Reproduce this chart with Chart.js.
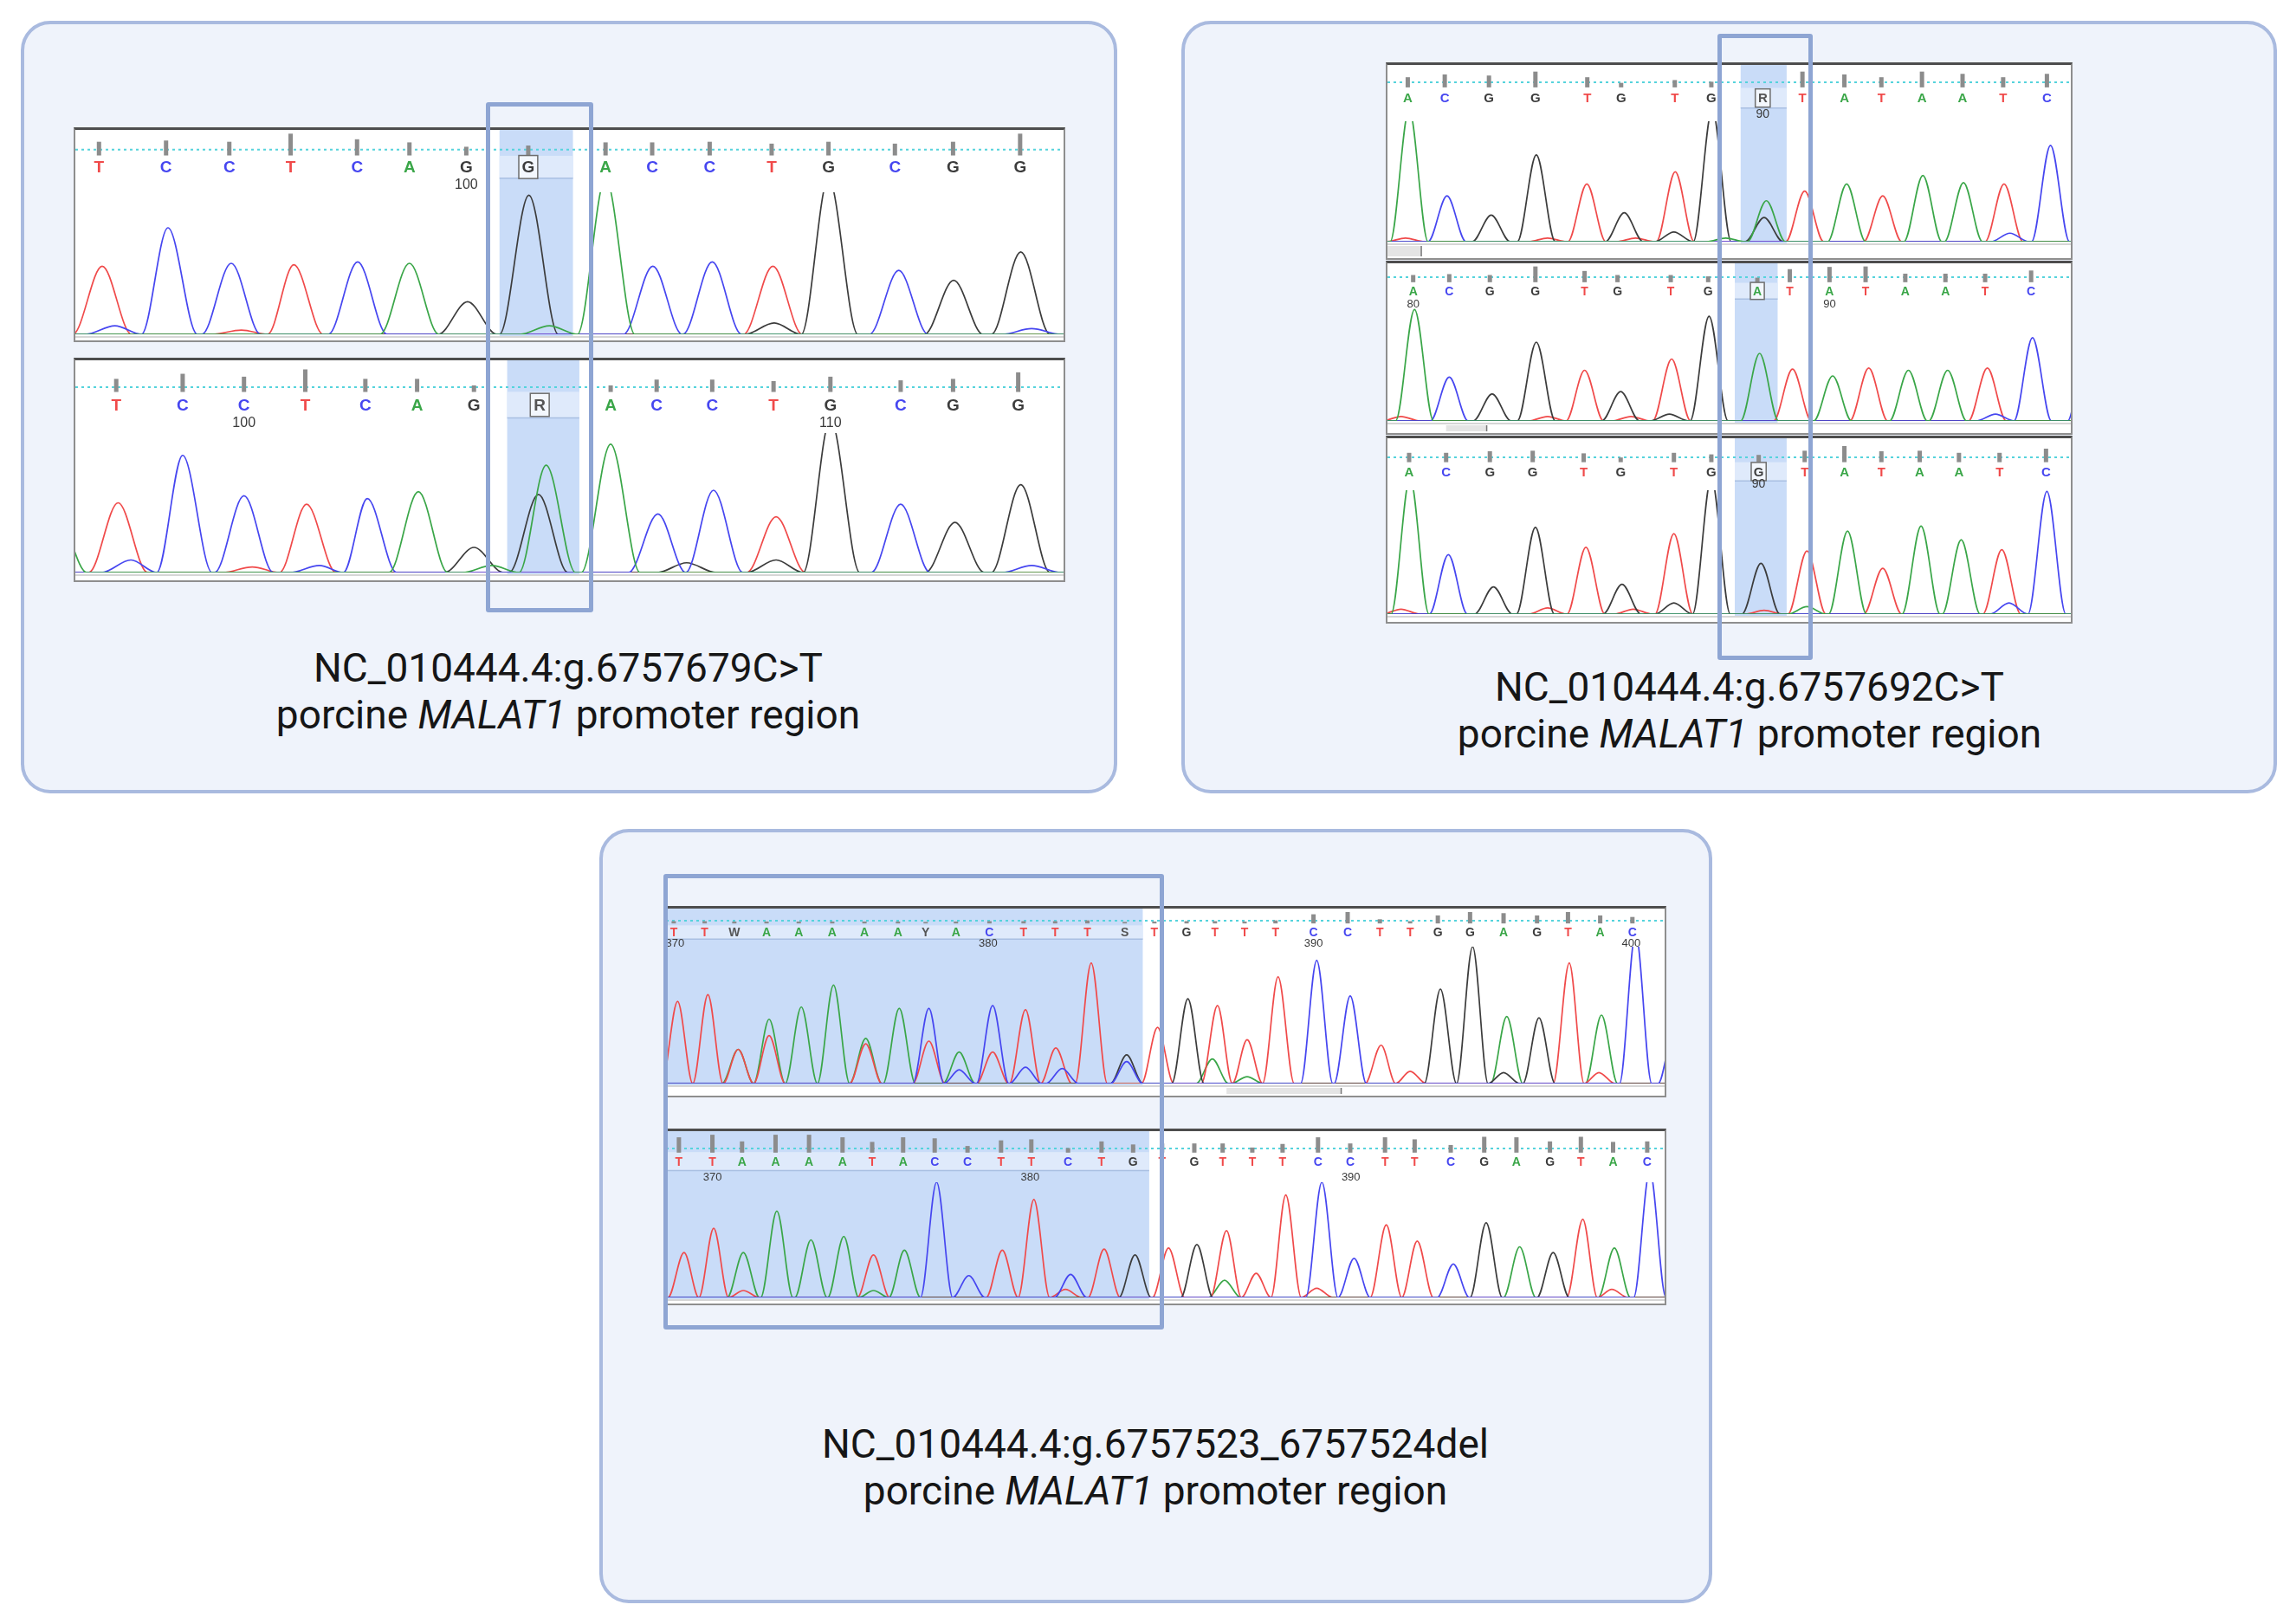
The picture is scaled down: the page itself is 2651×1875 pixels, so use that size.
<!DOCTYPE html>
<html>
<head>
<meta charset="utf-8">
<script src="https://cdn.jsdelivr.net/npm/chart.js@4.4.1/dist/chart.umd.min.js"></script>
<style>
html, body { margin: 0; padding: 0; background: #fff; }
#stage { position: relative; width: 2651px; height: 1875px; overflow: hidden; font-family: Roboto, sans-serif; }
.panel { position: absolute; box-sizing: border-box; background: #eff3fb; border: 4px solid #a9badf; border-radius: 34px; }
.track { position: absolute; box-sizing: border-box; background: #fff; border: 2px solid #8e8e8e; border-top: 3px solid #4d4d4d; }
.outline { position: absolute; box-sizing: border-box; border: 5px solid #8ea5d3; border-radius: 3px; z-index: 5; }
.caption { position: absolute; transform: translateX(-50%); text-align: center; white-space: nowrap; font-size: 46px; line-height: 54px; color: #161616; }
</style>
</head>
<body>
<div id="stage">
  <div class="panel" style="left:24px;top:24px;width:1266px;height:892px"></div>
  <div class="panel" style="left:1364px;top:24px;width:1265px;height:892px"></div>
  <div class="panel" style="left:692px;top:957px;width:1285px;height:894px"></div>

  <div class="caption" style="left:656px;top:744px">NC_010444.4:g.6757679C&gt;T<br>porcine <i>MALAT1</i> promoter region</div>
  <div class="caption" style="left:2020px;top:766px">NC_010444.4:g.6757692C&gt;T<br>porcine <i>MALAT1</i> promoter region</div>
  <div class="caption" style="left:1334px;top:1640px">NC_010444.4:g.6757523_6757524del<br>porcine <i>MALAT1</i> promoter region</div>

  <div class="outline" style="left:561px;top:118px;width:124px;height:589px"></div>
  <div class="outline" style="left:1983px;top:39px;width:110px;height:723px"></div>
  <div class="outline" style="left:766px;top:1009px;width:578px;height:526px"></div>
</div>

<script>
// base colours of the four dye channels
const baseColors = { A: '#3aa648', C: '#4646f0', G: '#3c3c3c', T: '#f04a4a' };

// ---- panel 1, upper trace (g.6757679C>T, reference) ----
const p1aBases = ['T','C','C','T','C','A','G','G','A','C','C','T','G','C','G','G'];
const p1aCallPos = [45,150,249,345,449,531,620,717,838,911,1001,1098,1187,1291,1382,1487];
const p1aQuality = [22,24,22,35,26,21,14,16,21,21,22,19,22,19,22,35];
const p1aNumbers = [[620,'100']];
const p1aPeaks = [
  ['T',50,48],['C',70,6],['C',153,75],['C',252,50],['T',268,3],['T',350,49],['C',450,51],
  ['A',531,50],['G',622,23],['G',718,98],['A',750,6],['A',838,110],['C',912,48],['C',1005,51],
  ['T',1100,48],['G',1102,8],['G',1187,110],['C',1297,45],['G',1383,38],['G',1488,58],['C',1505,4]
];

// ---- panel 1, lower trace ----
const p1bBases = ['T','C','C','T','C','A','G','R','A','C','C','T','G','C','G','G'];
const p1bCallPos = [72,176,272,368,462,543,632,735,846,918,1005,1101,1190,1300,1382,1484];
const p1bQuality = [18,25,21,31,18,18,9,0,9,17,17,15,21,16,18,27];
const p1bNumbers = [[272,'100'],[1190,'110']];
const p1bPeaks = [
  ['A',-20,40],['T',75,50],['C',95,9],['C',176,84],['C',272,55],['T',285,4],['T',370,49],['C',390,5],
  ['C',465,53],['A',545,58],['G',632,18],['A',660,5],['G',733,56],['A',745,77],['A',846,92],
  ['C',920,42],['G',965,7],['C',1007,59],['T',1105,40],['G',1105,9],['G',1190,110],['C',1300,49],
  ['G',1385,36],['G',1488,63],['C',1505,5]
];

// ---- panel 2, upper trace (g.6757692C>T) ----
const p2aBases = ['A','C','G','G','T','G','T','G','R','T','A','T','A','A','T','C'];
const p2aCallPos = [65,147,245,348,463,538,657,738,852,940,1033,1115,1205,1295,1385,1482];
const p2aQuality = [18,23,21,28,18,8,13,10,0,28,23,18,28,24,18,24];
const p2aNumbers = [[852,'90']];
const p2aPeaks = [
  ['A',68,110],['T',60,3],['C',152,38],['G',250,22],['G',350,72],['T',375,3],['T',462,48],
  ['G',545,24],['T',570,3],['T',658,58],['G',655,8],['G',740,110],['A',770,3],['A',860,34],
  ['G',855,20],['T',945,42],['A',1038,48],['T',1118,38],['A',1207,55],['A',1297,49],
  ['T',1387,48],['C',1400,7],['C',1490,80]
];

// ---- panel 2, middle trace ----
const p2bBases = ['A','C','G','G','T','G','T','G','A','T','A','T','A','A','T','C'];
const p2bCallPos = [77,157,247,348,457,530,648,731,840,912,1000,1080,1168,1257,1345,1447];
const p2bQuality = [16,18,16,35,25,16,16,13,10,29,34,35,19,19,19,26];
const p2bNumbers = [[77,'80'],[1000,'90']];
const p2bPeaks = [
  ['A',80,99],['T',50,4],['C',157,39],['G',252,24],['G',350,70],['T',375,4],['T',457,45],
  ['G',537,26],['T',560,4],['T',650,55],['G',645,6],['G',733,93],['A',845,60],['T',918,46],
  ['A',1007,40],['T',1087,47],['A',1175,45],['A',1262,45],['T',1350,47],['C',1368,6],
  ['C',1450,74],['C',1570,70]
];

// ---- panel 2, lower trace ----
const p2cBases = ['A','C','G','G','T','G','T','G','G','T','A','T','A','A','T','C'];
const p2cCallPos = [68,150,247,342,455,537,655,738,843,945,1033,1115,1200,1287,1377,1480];
const p2cQuality = [18,18,21,22,17,9,18,15,14,22,31,21,22,18,18,26];
const p2cNumbers = [[843,'90']];
const p2cPeaks = [
  ['A',70,110],['T',50,4],['C',155,48],['G',255,22],['G',348,70],['T',375,5],['T',460,54],
  ['G',540,24],['T',565,4],['T',655,65],['G',655,9],['G',738,110],['G',848,41],['T',855,3],
  ['T',950,51],['A',950,6],['A',1040,67],['T',1118,37],['A',1203,71],['A',1292,60],
  ['T',1382,52],['C',1398,9],['C',1482,99]
];

// ---- panel 3, upper trace (g.6757523_6757524del, heterozygous) ----
const p3aBases = ['T','T','W','A','A','A','A','A','Y','A','C','T','T','T','S',
                  'T','G','T','T','T','C','C','T','T','G','G','A','G','T','A','C'];
const p3aCallPos = [22,70,116,166,216,268,318,370,413,460,512,565,614,664,722,
                    768,818,862,908,956,1015,1068,1118,1165,1208,1258,1310,1362,1410,1460,1510];
const p3aQuality = [6,6,5,5,5,5,5,5,4,5,6,6,6,8,4,5,6,6,5,8,24,30,11,6,21,30,27,21,30,21,17];
const p3aNumbers = [[24,'370'],[510,'380'],[1015,'390'],[1508,'400']];
const p3aPeaks = [
  ['T',28,60],['T',75,65],['T',122,25],['A',122,25],['A',170,47],['T',170,35],['A',220,56],
  ['A',270,72],['A',320,33],['T',320,29],['A',372,55],['C',418,55],['T',418,31],['A',465,23],
  ['C',465,10],['C',517,57],['T',517,23],['T',568,54],['C',568,12],['T',615,26],['C',625,11],
  ['T',670,88],['G',725,21],['C',725,16],['T',773,41],['G',820,62],['A',858,18],['T',866,57],
  ['T',912,32],['A',912,5],['T',960,78],['C',1020,90],['C',1072,64],['T',1120,28],['T',1165,9],
  ['G',1212,69],['G',1262,100],['G',1310,8],['A',1315,49],['G',1365,48],['T',1412,88],
  ['T',1458,8],['A',1462,50],['C',1515,110],['C',1575,40]
];

// ---- panel 3, lower trace ----
const p3bBases = ['T','T','A','A','A','A','T','A','C','C','T','T','C','T','G',
                  'T','G','T','T','T','C','C','T','T','C','G','A','G','T','A','C'];
const p3bCallPos = [30,82,128,180,232,284,330,378,427,478,530,577,634,686,735,
                    780,830,874,920,967,1022,1072,1126,1172,1228,1280,1330,1382,1430,1480,1533];
const p3bQuality = [30,35,22,35,35,30,21,30,28,13,24,26,9,22,16,18,18,18,10,17,30,18,30,26,15,31,30,22,31,21,22];
const p3bNumbers = [[82,'370'],[575,'380'],[1073,'390']];
const p3bPeaks = [
  ['T',38,39],['T',84,60],['A',130,39],['T',130,6],['A',182,75],['A',235,50],['A',286,53],
  ['T',332,37],['A',332,6],['A',380,41],['C',430,100],['C',480,19],['T',532,41],['T',581,85],
  ['C',638,20],['T',630,7],['T',690,42],['G',738,37],['T',790,43],['G',834,46],['A',877,15],
  ['T',880,58],['T',926,21],['T',972,89],['C',1028,100],['T',1020,8],['C',1078,34],['T',1128,63],
  ['T',1176,49],['C',1232,29],['G',1283,65],['A',1335,44],['G',1387,39],['T',1433,68],
  ['A',1482,43],['T',1478,7],['C',1537,110]
];

// layout of each trace window on the page
const tracks = [
  { bases: p1aBases, pos: p1aCallPos, qual: p1aQuality, nums: p1aNumbers, peaks: p1aPeaks,
    left: 85, top: 147, width: 1145, height: 248, xMin: 8, xMax: 1555, head: 72, foot: 7,
    dash: .316, letter: .595, label: .884, barBase: .41, hl: [672, 787], box: 7, hw: 46, font: 19, numFont: 16, order: 'ACGT' },
  { bases: p1bBases, pos: p1bCallPos, qual: p1bQuality, nums: p1bNumbers, peaks: p1bPeaks,
    left: 85, top: 413, width: 1145, height: 259, xMin: 8, xMax: 1555, head: 84, foot: 9,
    dash: .368, letter: .613, label: .87, barBase: .435, hl: [684, 797], box: 7, hw: 46, font: 19, numFont: 16, order: 'ACGT' },
  { bases: p2aBases, pos: p2aCallPos, qual: p2aQuality, nums: p2aNumbers, peaks: p2aPeaks,
    left: 1600, top: 72, width: 793, height: 228, xMin: 20, xMax: 1535, head: 65, foot: 19,
    dash: .306, letter: .587, label: .883, barBase: .398, hl: [803, 905], box: 8, hw: 42, font: 15, numFont: 14, order: 'ACGT',
    scroll: [20, 95] },
  { bases: p2bBases, pos: p2bCallPos, qual: p2bQuality, nums: p2bNumbers, peaks: p2bPeaks,
    left: 1600, top: 301, width: 793, height: 201, xMin: 20, xMax: 1535, head: 52, foot: 14,
    dash: .31, letter: .613, label: .92, barBase: .42, hl: [790, 885], box: 8, hw: 42, font: 14, numFont: 13, order: 'ACGT',
    scroll: [150, 240] },
  { bases: p2cBases, pos: p2cCallPos, qual: p2cQuality, nums: p2cNumbers, peaks: p2cPeaks,
    left: 1600, top: 503, width: 793, height: 217, xMin: 20, xMax: 1535, head: 60, foot: 9,
    dash: .367, letter: .64, label: .89, barBase: .46, hl: [790, 905], box: 8, hw: 42, font: 15, numFont: 14, order: 'ACGT' },
  { bases: p3aBases, pos: p3aCallPos, qual: p3aQuality, nums: p3aNumbers, peaks: p3aPeaks,
    left: 767, top: 1046, width: 1157, height: 221, xMin: 10, xMax: 1560, head: 44, foot: 14,
    dash: .318, letter: .62, label: .91, barBase: .39, hl: [10, 750], box: -1, hw: 25, font: 14, numFont: 13, order: 'CGTA',
    scroll: [880, 1058] },
  { bases: p3bBases, pos: p3bCallPos, qual: p3bQuality, nums: p3bNumbers, peaks: p3bPeaks,
    left: 767, top: 1303, width: 1157, height: 204, xMin: 10, xMax: 1560, head: 59, foot: 7,
    dash: .337, letter: .59, label: .9, barBase: .42, hl: [10, 760], box: -1, hw: 25, font: 14, numFont: 13, order: 'CGTA' }
];

// one trace per dye: baseline, then a rise and fall around every peak
function channelPoints(t, base) {
  const list = t.peaks.filter(p => p[0] === base).sort((a, b) => a[1] - b[1]);
  const pts = [{ x: t.xMin - 60, y: 0 }];
  let prev = null;
  list.forEach(([, pos, h]) => {
    if (prev !== null && pos - prev < 2 * t.hw) {
      pts[pts.length - 1].x = (prev + pos) / 2;
    } else {
      pts.push({ x: pos - t.hw, y: 0 });
    }
    pts.push({ x: pos, y: h });
    pts.push({ x: pos + t.hw, y: 0 });
    prev = pos;
  });
  pts.push({ x: t.xMax + 60, y: 0 });
  return pts;
}

// header of the trace window: quality bars, dotted line, base calls, numbering
function decorPlugin(t) {
  return {
    id: 'decor',
    beforeDatasetsDraw(chart) {
      const { ctx, chartArea, scales: { x } } = chart;
      const H = chartArea.top;
      const x0 = x.getPixelForValue(t.hl[0]);
      const x1 = x.getPixelForValue(t.hl[1]);
      const ly = t.letter * H;
      ctx.save();
      ctx.fillStyle = '#c9dcf8';
      ctx.fillRect(x0, 0, x1 - x0, chartArea.bottom + 2);
      ctx.fillStyle = '#dfeafb';
      ctx.fillRect(x0, ly - 0.18 * H, x1 - x0, 0.36 * H);
      ctx.strokeStyle = '#a9bfe2';
      ctx.lineWidth = 1.5;
      ctx.beginPath();
      ctx.moveTo(x0, ly + 0.18 * H);
      ctx.lineTo(x1, ly + 0.18 * H);
      ctx.stroke();
      ctx.restore();
    },
    afterDatasetsDraw(chart) {
      const { ctx, chartArea, scales: { x } } = chart;
      const H = chartArea.top;
      ctx.save();
      // dotted guide line
      ctx.strokeStyle = '#55d3dc';
      ctx.lineWidth = 2;
      ctx.setLineDash([3, 4]);
      ctx.beginPath();
      ctx.moveTo(0, t.dash * H);
      ctx.lineTo(chart.width, t.dash * H);
      ctx.stroke();
      ctx.setLineDash([]);
      // quality bars
      ctx.fillStyle = '#8c8c8c';
      t.pos.forEach((p, i) => {
        const q = t.qual[i];
        if (!q) return;
        const px = x.getPixelForValue(p);
        const h = q / 100 * H;
        ctx.fillRect(px - 2.5, t.barBase * H - h, 5, h);
      });
      // base calls
      ctx.textAlign = 'center';
      ctx.textBaseline = 'middle';
      ctx.font = `600 ${t.font}px "Liberation Sans Narrow", "Liberation Sans", sans-serif`;
      t.bases.forEach((b, i) => {
        const px = x.getPixelForValue(t.pos[i]);
        const ly = t.letter * H;
        if (i === t.box) {
          const w = t.font * 1.15, hh = t.font * 1.4;
          ctx.fillStyle = '#f3f7fd';
          ctx.fillRect(px - w / 2, ly - hh / 2, w, hh);
          ctx.strokeStyle = '#6e6e6e';
          ctx.lineWidth = 1.5;
          ctx.strokeRect(px - w / 2, ly - hh / 2, w, hh);
        }
        ctx.fillStyle = baseColors[b] || '#555';
        ctx.fillText(b, px, ly + 1);
      });
      // position numbering
      ctx.fillStyle = '#3a3a3a';
      ctx.font = `${t.numFont}px "Liberation Sans Narrow", "Liberation Sans", sans-serif`;
      t.nums.forEach(([p, s]) => ctx.fillText(s, x.getPixelForValue(p), t.label * H));
      // thin line under the traces and the viewer's scroll strip
      ctx.strokeStyle = '#c8c8c8';
      ctx.lineWidth = 1.5;
      ctx.beginPath();
      ctx.moveTo(0, chartArea.bottom + 3);
      ctx.lineTo(chart.width, chartArea.bottom + 3);
      ctx.stroke();
      if (t.scroll) {
        const s0 = x.getPixelForValue(t.scroll[0]);
        const s1 = x.getPixelForValue(t.scroll[1]);
        const top = chartArea.bottom + 5;
        const hgt = Math.max(chart.height - top - 2, 4);
        ctx.fillStyle = '#e4e4e4';
        ctx.fillRect(s0, top, s1 - s0, hgt);
        ctx.strokeStyle = '#777';
        ctx.lineWidth = 1.5;
        ctx.beginPath();
        ctx.moveTo(s1, top);
        ctx.lineTo(s1, top + hgt);
        ctx.stroke();
      }
      ctx.restore();
    }
  };
}

const stage = document.getElementById('stage');

tracks.forEach(t => {
  const box = document.createElement('div');
  box.className = 'track';
  box.style.left = t.left + 'px';
  box.style.top = t.top + 'px';
  box.style.width = t.width + 'px';
  box.style.height = t.height + 'px';
  const canvas = document.createElement('canvas');
  box.appendChild(canvas);
  stage.appendChild(box);

  new Chart(canvas, {
    type: 'line',
    data: {
      datasets: t.order.split('').map(b => ({
        label: b,
        data: channelPoints(t, b),
        borderColor: baseColors[b],
        borderWidth: 1.7,
        pointRadius: 0,
        fill: false,
        cubicInterpolationMode: 'monotone',
        clip: 0
      }))
    },
    options: {
      responsive: true,
      maintainAspectRatio: false,
      animation: false,
      events: [],
      layout: { padding: { top: t.head, bottom: t.foot, left: 0, right: 0 } },
      scales: {
        x: { type: 'linear', min: t.xMin, max: t.xMax, display: false },
        y: { min: 0, max: 100, display: false }
      },
      plugins: {
        legend: { display: false },
        tooltip: { enabled: false }
      }
    },
    plugins: [decorPlugin(t)]
  });
});
</script>
</body>
</html>
